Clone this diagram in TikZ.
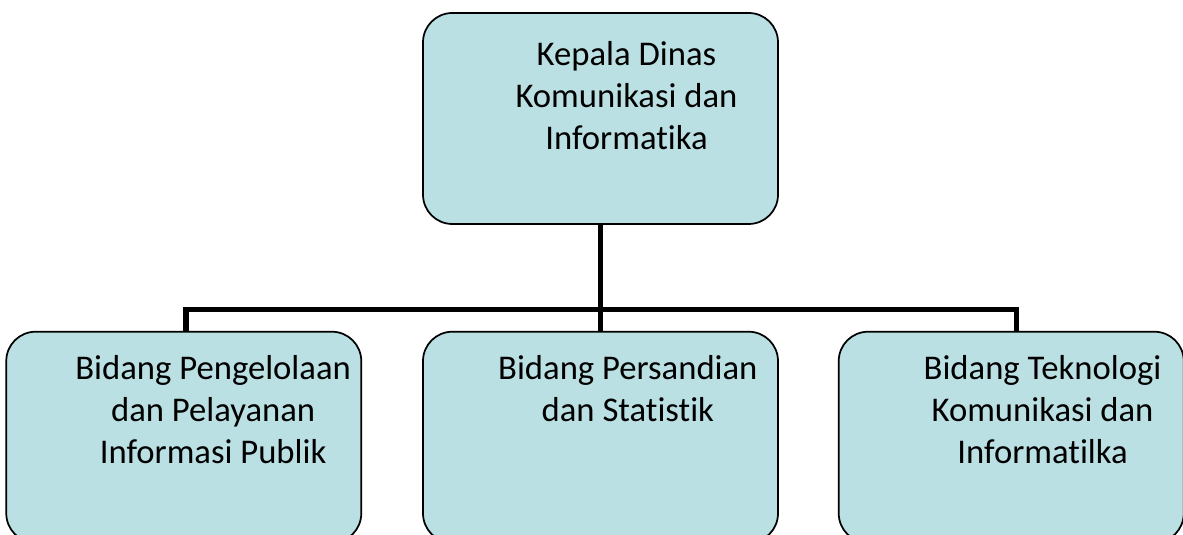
\documentclass[tikz,border=0pt]{standalone}
\usepackage{fontspec}
\setmainfont{Carlito}[Ligatures={NoCommon}]
\usetikzlibrary{positioning}
\definecolor{boxblue}{RGB}{186,224,228}

\tikzset{
  unit/.style={draw, line width=1.3pt, rounded corners=22pt, fill=boxblue,
    minimum width=266.25pt, minimum height=158.25pt},
  caption/.style={anchor=north, inner sep=0pt, align=center,
    font=\fontsize{26pt}{31.5pt}\selectfont},
  conn/.style={line width=4.3pt}
}

\begin{document}
\begin{tikzpicture}[x=0.75pt, y=0.75pt]
                \useasboundingbox (0,0) rectangle (1183,535);
                \clip (0,0) rectangle (1183,535);
                % boxes
                \node[unit] at (600.5,416.5) (kepala) {};
                \node[unit, below=79.5pt of kepala] (persandian) {};
                \node[unit, left=45pt of persandian] (pelayanan) {};
                \node[unit, right=44.25pt of persandian, minimum width=258.75pt] (teknologi) {};
                % texts
                \node[caption] at ([xshift=19.5pt, yshift=-22pt]kepala.north) (kepalatext) {Kepala Dinas\\Komunikasi dan\\Informatika};
                \node[caption] at ([xshift=22pt, yshift=-18.5pt]pelayanan.north) (pelayanantext) {Bidang Pengelolaan\\dan Pelayanan\\Informasi Publik};
                \node[caption] at ([xshift=20.5pt, yshift=-18.5pt]persandian.north) (persandiantext) {Bidang Persandian\\dan Statistik};
                \node[caption] at ([xshift=23.5pt, yshift=-18.5pt]teknologi.north) (teknologitext) {Bidang Teknologi\\Komunikasi dan\\Informatilka};
                % connectors
                \draw[conn] (kepala.south) -- ++(0,-63.4pt) coordinate (bus);
                \draw[conn] (bus) -- (persandian.north);
                \draw[conn] ([xshift=1.5pt]pelayanan.north) |- (bus) -| ([xshift=4pt]teknologi.north);
            \end{tikzpicture}
\end{document}
